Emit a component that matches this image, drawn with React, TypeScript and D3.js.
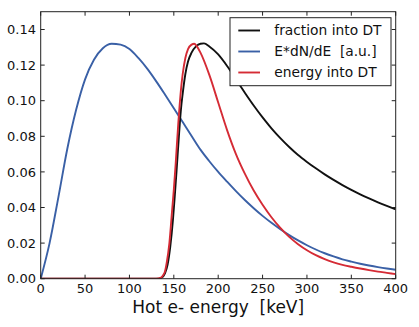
import React from "react";
import * as d3 from "d3";

// ---- data ----
const blueE = [0, 10, 20, 30, 40, 50, 60, 70, 80, 90, 100, 110, 120, 130, 140, 150, 160, 170, 180, 190, 200, 210, 220, 230, 240, 250, 260, 270, 280, 290, 300, 310, 320, 330, 340, 350, 360, 370, 380, 390, 400];
const blueV = [0, 0.02, 0.046, 0.073, 0.095, 0.112, 0.123, 0.1295, 0.132, 0.1315, 0.129, 0.124, 0.118, 0.111, 0.1035, 0.0958, 0.088, 0.0802, 0.0725, 0.066, 0.06, 0.0545, 0.0492, 0.0442, 0.0396, 0.0353, 0.0314, 0.0278, 0.0245, 0.0215, 0.0188, 0.0164, 0.0143, 0.0125, 0.0109, 0.0096, 0.0084, 0.0074, 0.0065, 0.0057, 0.005];

const redE = [0, 50, 100, 130, 135, 138, 140, 142, 145, 148, 150, 152, 155, 158, 160, 163, 166, 170, 173, 176, 180, 190, 200, 210, 220, 230, 240, 250, 260, 270, 280, 290, 300, 310, 320, 330, 340, 350, 360, 370, 380, 390, 400];
const redV = [0, 0, 0, 0, 0.0005, 0.002, 0.004, 0.009, 0.02, 0.038, 0.05, 0.064, 0.087, 0.106, 0.115, 0.124, 0.129, 0.1315, 0.132, 0.1305, 0.127, 0.1145, 0.099, 0.0835, 0.07, 0.059, 0.0495, 0.0415, 0.0345, 0.0285, 0.0235, 0.0194, 0.016, 0.0132, 0.011, 0.0092, 0.0078, 0.0067, 0.0057, 0.0048, 0.004, 0.0033, 0.0026];

const blackE = [0, 50, 100, 130, 136, 140, 143, 146, 149, 151, 153, 156, 158, 160, 163, 166, 170, 175, 180, 184, 190, 200, 210, 220, 230, 240, 250, 260, 270, 280, 290, 300, 310, 320, 330, 340, 350, 360, 370, 380, 390, 400];
const blackV = [0, 0, 0, 0, 0.0005, 0.003, 0.008, 0.018, 0.033, 0.046, 0.06, 0.082, 0.095, 0.104, 0.115, 0.122, 0.127, 0.1305, 0.132, 0.1322, 0.1305, 0.126, 0.1195, 0.112, 0.1045, 0.0973, 0.0906, 0.0845, 0.079, 0.074, 0.0695, 0.0656, 0.062, 0.0586, 0.0555, 0.0526, 0.0499, 0.0474, 0.0451, 0.0429, 0.0409, 0.039];

const xTicks = [0, 50, 100, 150, 200, 250, 300, 350, 400];
const yTicks = [0, 0.02, 0.04, 0.06, 0.08, 0.1, 0.12, 0.14];
const legendLabels = ["fraction into DT", "E*dN/dE  [a.u.]", "energy into DT"];
const xLabel = "Hot e- energy  [keV]";

const COLORS = { black: "#111111", blue: "#3a60a6", red: "#d52b35" };

const W = 419, H = 327;
const M = { left: 40.7, right: 395.7, top: 11.7, bottom: 278.7 };
const FONT = "DejaVu Sans, Verdana, sans-serif";

export default function App() {
  const x = d3.scaleLinear().domain([0, 400]).range([M.left, M.right]);
  const y = d3.scaleLinear().domain([0, 0.15]).range([M.bottom, M.top]);
  const mk = (E: number[], V: number[]) =>
    d3.line<number>().x((_, i) => x(E[i])).y((v) => y(v)).curve(d3.curveMonotoneX)(V) || "";

  const series = [
    { name: legendLabels[0], color: COLORS.black, d: mk(blackE, blackV) },
    { name: legendLabels[1], color: COLORS.blue, d: mk(blueE, blueV) },
    { name: legendLabels[2], color: COLORS.red, d: mk(redE, redV) },
  ];
  const drawOrder = [1, 0, 2];
  const tl = 4;
  const leg = { x0: 230, y0: 17.7, w: 161, h: 68, rows: [30.5, 51.5, 72.5] };

  return (
    <svg width={W} height={H} style={{ position: "absolute", left: 0, top: 0, background: "#fff" }} fontFamily={FONT}>
      <defs>
        <clipPath id="plotclip">
          <rect x={M.left} y={M.top} width={M.right - M.left} height={M.bottom - M.top} />
        </clipPath>
      </defs>
      <g clipPath="url(#plotclip)">
        {drawOrder.map((i) => (
          <path key={i} d={series[i].d} fill="none" stroke={series[i].color} strokeWidth={1.9} strokeLinejoin="round" />
        ))}
      </g>
      {/* frame */}
      <rect x={M.left} y={M.top} width={M.right - M.left} height={M.bottom - M.top} fill="none" stroke="#222" strokeWidth={1} />
      {/* ticks */}
      {xTicks.map((t) => (
        <g key={"x" + t}>
          <line x1={x(t)} x2={x(t)} y1={M.bottom} y2={M.bottom - tl} stroke="#222" />
          <line x1={x(t)} x2={x(t)} y1={M.top} y2={M.top + tl} stroke="#222" />
          <text x={x(t)} y={293} fontSize={13} textAnchor="middle" fill="#111">{t}</text>
        </g>
      ))}
      {yTicks.map((t) => (
        <g key={"y" + t}>
          <line x1={M.left} x2={M.left + tl} y1={y(t)} y2={y(t)} stroke="#222" />
          <line x1={M.right} x2={M.right - tl} y1={y(t)} y2={y(t)} stroke="#222" />
          <text x={36} y={y(t)} dy="0.36em" fontSize={13} textAnchor="end" fill="#111">{t.toFixed(2)}</text>
        </g>
      ))}
      <text x={(M.left + M.right) / 2} y={312.5} fontSize={17} textAnchor="middle" fill="#111" style={{ whiteSpace: "pre" }}>{xLabel}</text>
      {/* legend */}
      <rect x={leg.x0} y={leg.y0} width={leg.w} height={leg.h} fill="#fff" stroke="#222" strokeWidth={1} />
      {series.map((s, i) => (
        <g key={"l" + i}>
          <line x1={238.3} x2={260} y1={leg.rows[i]} y2={leg.rows[i]} stroke={s.color} strokeWidth={1.9} />
          <text x={274.3} y={leg.rows[i]} dy="0.36em" fontSize={13.8} fill="#111" style={{ whiteSpace: "pre" }}>{s.name}</text>
        </g>
      ))}
    </svg>
  );
}
